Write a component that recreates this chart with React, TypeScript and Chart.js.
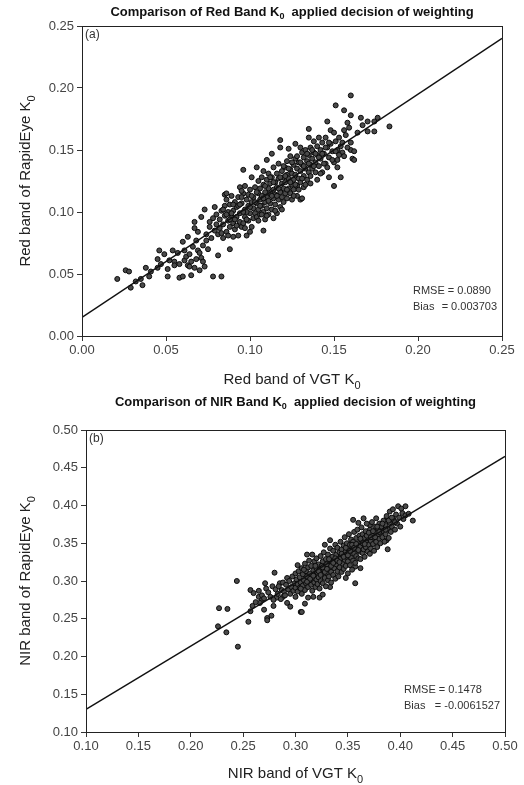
import React, { useEffect, useRef } from "react";
import { Chart, registerables } from "chart.js";

Chart.register(...registerables);

// ---------- DATA ----------
const redXTicks = [0, 0.05, 0.1, 0.15, 0.2, 0.25];
const redYTicks = [0, 0.05, 0.1, 0.15, 0.2, 0.25];
const nirXTicks = [0.1, 0.15, 0.2, 0.25, 0.3, 0.35, 0.4, 0.45, 0.5];
const nirYTicks = [0.1, 0.15, 0.2, 0.25, 0.3, 0.35, 0.4, 0.45, 0.5];

const redFitLine: [number, number][] = [[0, 0.015], [0.25, 0.24]];
const nirFitLine: [number, number][] = [[0.1, 0.13], [0.5, 0.465]];

const redStats = { rmse: "0.0890", bias: "0.003703" };
const nirStats = { rmse: "0.1478", bias: "-0.0061527" };

// Red band: [VGT K0, RapidEye K0]
const redPoints: [number, number][] = [
  [0.021,0.046],[0.026,0.053],[0.028,0.052],[0.029,0.039],[0.032,0.044],[0.036,0.041],[0.038,0.055],[0.041,0.052],
  [0.045,0.055],[0.045,0.062],[0.046,0.069],[0.049,0.066],[0.051,0.054],[0.051,0.048],[0.054,0.069],[0.055,0.060],
  [0.057,0.067],[0.055,0.057],[0.058,0.047],[0.060,0.076],[0.060,0.048],[0.061,0.069],[0.061,0.061],[0.063,0.080],
  [0.063,0.057],[0.064,0.056],[0.065,0.049],[0.067,0.055],[0.066,0.072],[0.068,0.077],[0.069,0.084],[0.070,0.053],
  [0.067,0.092],[0.067,0.087],[0.069,0.069],[0.070,0.067],[0.072,0.073],[0.073,0.056],[0.073,0.102],[0.071,0.096],
  [0.078,0.048],[0.081,0.065],[0.083,0.048],[0.088,0.070],[0.074,0.077],[0.062,0.064],[0.058,0.058],[0.071,0.063],
  [0.074,0.082],[0.076,0.088],[0.068,0.062],[0.064,0.066],[0.065,0.060],[0.072,0.060],[0.075,0.070],[0.077,0.079],
  [0.079,0.085],[0.047,0.058],[0.052,0.061],[0.040,0.048],[0.035,0.046],
  [0.076,0.092],[0.078,0.095],[0.080,0.090],[0.080,0.098],[0.082,0.087],[0.082,0.094],[0.083,0.101],[0.084,0.090],
  [0.085,0.097],[0.085,0.105],[0.086,0.084],[0.086,0.110],[0.087,0.093],[0.087,0.100],[0.088,0.088],[0.088,0.106],
  [0.089,0.096],[0.089,0.113],[0.090,0.080],[0.090,0.091],[0.090,0.101],[0.091,0.108],[0.091,0.086],[0.092,0.096],
  [0.092,0.104],[0.093,0.081],[0.093,0.112],[0.094,0.092],[0.094,0.099],[0.095,0.107],[0.095,0.088],[0.096,0.091],
  [0.096,0.115],[0.096,0.134],[0.097,0.102],[0.097,0.096],[0.098,0.081],[0.098,0.110],[0.099,0.093],[0.099,0.105],
  [0.100,0.084],[0.100,0.099],[0.100,0.118],[0.101,0.088],[0.101,0.128],[0.101,0.108],[0.079,0.104],[0.081,0.082],
  [0.084,0.079],[0.085,0.114],[0.086,0.115],[0.083,0.083],[0.087,0.081],[0.089,0.099],[0.091,0.094],[0.093,0.105],
  [0.094,0.120],[0.095,0.117],[0.097,0.121],[0.098,0.100],[0.099,0.114],
  [0.102,0.095],[0.102,0.103],[0.102,0.112],[0.103,0.120],[0.103,0.099],[0.104,0.096],[0.104,0.107],[0.104,0.136],
  [0.105,0.115],[0.105,0.102],[0.105,0.125],[0.106,0.110],[0.106,0.098],[0.106,0.119],[0.107,0.105],[0.107,0.128],
  [0.107,0.113],[0.108,0.085],[0.108,0.100],[0.108,0.122],[0.108,0.133],[0.109,0.094],[0.109,0.108],[0.109,0.116],
  [0.110,0.103],[0.110,0.126],[0.110,0.142],[0.110,0.112],[0.111,0.098],[0.111,0.119],[0.111,0.131],[0.112,0.107],
  [0.112,0.115],[0.112,0.123],[0.113,0.102],[0.113,0.147],[0.113,0.128],[0.114,0.095],[0.114,0.111],[0.114,0.118],
  [0.114,0.136],[0.115,0.106],[0.115,0.124],[0.115,0.114],[0.116,0.099],[0.116,0.131],[0.116,0.120],[0.117,0.110],
  [0.117,0.127],[0.117,0.139],[0.118,0.152],[0.118,0.158],[0.118,0.116],[0.118,0.104],[0.119,0.123],[0.119,0.133],
  [0.119,0.112],[0.120,0.119],[0.120,0.128],[0.120,0.108],
  [0.121,0.115],[0.121,0.136],[0.121,0.124],[0.122,0.111],[0.122,0.130],[0.122,0.141],[0.123,0.151],[0.123,0.119],
  [0.123,0.127],[0.124,0.115],[0.124,0.134],[0.124,0.145],[0.125,0.122],[0.125,0.131],[0.125,0.110],[0.126,0.138],
  [0.126,0.126],[0.126,0.118],[0.127,0.155],[0.127,0.143],[0.127,0.130],[0.128,0.121],[0.128,0.135],[0.128,0.113],
  [0.129,0.140],[0.129,0.127],[0.130,0.110],[0.130,0.152],[0.130,0.133],[0.130,0.124],[0.131,0.111],[0.131,0.148],
  [0.131,0.138],[0.132,0.129],[0.132,0.144],[0.132,0.120],[0.133,0.135],[0.133,0.150],[0.134,0.126],[0.134,0.141],
  [0.135,0.167],[0.135,0.160],[0.135,0.132],[0.135,0.146],[0.136,0.138],[0.136,0.129],[0.136,0.152],[0.137,0.143],
  [0.137,0.135],[0.138,0.148],[0.138,0.157],[0.139,0.140],[0.139,0.132],[0.140,0.126],[0.140,0.146],[0.140,0.153],
  [0.141,0.160],[0.141,0.137],[0.142,0.150],[0.142,0.143],[0.143,0.132],[0.143,0.156],[0.144,0.147],[0.145,0.160],
  [0.145,0.139],[0.146,0.136],[0.146,0.173],[0.146,0.152],[0.147,0.128],[0.147,0.144],[0.148,0.166],[0.148,0.155],
  [0.149,0.149],[0.150,0.121],[0.150,0.164],[0.150,0.140],[0.151,0.186],[0.151,0.157],[0.152,0.136],[0.152,0.142],
  [0.152,0.150],[0.153,0.160],[0.154,0.128],[0.154,0.153],[0.155,0.148],[0.155,0.156],[0.156,0.182],[0.156,0.145],
  [0.157,0.162],[0.158,0.172],[0.159,0.168],[0.160,0.156],[0.160,0.194],[0.160,0.178],[0.160,0.150],
  [0.161,0.143],[0.162,0.149],[0.162,0.142],[0.164,0.164],[0.166,0.176],[0.167,0.170],[0.170,0.173],[0.170,0.165],
  [0.174,0.173],[0.174,0.165],[0.176,0.176],[0.183,0.169],
  [0.092,0.089],[0.094,0.106],[0.096,0.100],[0.098,0.094],[0.100,0.104],[0.101,0.113],[0.103,0.108],[0.104,0.116],
  [0.105,0.093],[0.106,0.105],[0.107,0.098],[0.108,0.111],[0.109,0.121],[0.110,0.097],[0.111,0.109],[0.112,0.128],
  [0.113,0.113],[0.114,0.124],[0.115,0.101],[0.116,0.113],[0.117,0.119],[0.118,0.128],[0.119,0.102],[0.120,0.137],
  [0.121,0.129],[0.122,0.118],[0.123,0.135],[0.124,0.124],[0.125,0.140],[0.126,0.113],[0.127,0.122],[0.128,0.145],
  [0.129,0.118],[0.130,0.140],[0.131,0.127],[0.132,0.137],[0.133,0.122],[0.134,0.147],[0.135,0.139],[0.136,0.123],
  [0.137,0.150],[0.138,0.137],[0.139,0.147],[0.141,0.144],[0.142,0.131],[0.143,0.147],[0.144,0.139],[0.145,0.152],
  [0.147,0.156],[0.149,0.142],[0.151,0.149],[0.153,0.146],[0.156,0.166],[0.158,0.152],[0.088,0.094],[0.086,0.098],
  [0.084,0.102],[0.090,0.106],[0.095,0.112],[0.097,0.087]
];

// NIR band: [VGT K0, RapidEye K0]
const nirPoints: [number, number][] = [
  [0.226,0.240],[0.227,0.264],[0.235,0.263],[0.234,0.232],[0.244,0.300],[0.245,0.213],[0.255,0.246],[0.257,0.260],
  [0.257,0.288],[0.260,0.284],[0.265,0.279],[0.268,0.275],[0.266,0.271],[0.259,0.267],[0.271,0.297],[0.270,0.262],
  [0.273,0.251],[0.277,0.254],[0.273,0.248],[0.280,0.311],[0.279,0.267],[0.282,0.278],[0.285,0.297],[0.287,0.288],
  [0.288,0.279],[0.292,0.304],[0.292,0.271],[0.295,0.266],[0.305,0.259],[0.311,0.335],[0.316,0.335],[0.302,0.321],
  [0.306,0.259],[0.309,0.270],[0.312,0.278],[0.317,0.279],[0.323,0.278],[0.326,0.282],[0.333,0.292],[0.357,0.297],
  [0.348,0.304],[0.333,0.354],[0.328,0.348],[0.355,0.381],[0.360,0.377],[0.365,0.383],[0.371,0.374],[0.376,0.372],
  [0.383,0.370],[0.388,0.381],[0.393,0.383],[0.402,0.390],[0.405,0.387],[0.412,0.380],[0.388,0.342],[0.387,0.354],
  [0.357,0.319],[0.362,0.317],
  [0.262,0.272],[0.265,0.287],[0.268,0.281],[0.270,0.277],[0.272,0.290],[0.274,0.285],[0.276,0.279],[0.278,0.293],
  [0.279,0.275],
  [0.281,0.289],[0.283,0.283],[0.284,0.293],[0.286,0.276],[0.288,0.298],[0.289,0.286],[0.290,0.281],[0.291,0.295],
  [0.293,0.289],[0.294,0.300],[0.295,0.283],[0.296,0.292],[0.297,0.306],[0.298,0.287],[0.299,0.297],[0.300,0.279],
  [0.300,0.310],[0.300,0.291],
  [0.301,0.302],[0.302,0.286],[0.302,0.296],[0.303,0.313],[0.304,0.291],[0.304,0.305],[0.305,0.298],[0.306,0.283],
  [0.306,0.317],[0.307,0.309],[0.307,0.294],[0.308,0.301],[0.309,0.288],[0.309,0.323],[0.310,0.313],[0.310,0.297],
  [0.311,0.306],[0.312,0.292],[0.312,0.318],[0.313,0.300],[0.313,0.327],[0.314,0.310],[0.315,0.295],[0.315,0.320],
  [0.316,0.304],[0.316,0.287],[0.317,0.314],[0.318,0.298],[0.318,0.326],[0.319,0.308],[0.319,0.292],[0.320,0.317],
  [0.320,0.302],[0.320,0.330],
  [0.321,0.311],[0.321,0.296],[0.322,0.322],[0.322,0.305],[0.323,0.290],[0.323,0.315],[0.324,0.333],[0.324,0.300],
  [0.325,0.320],[0.325,0.309],[0.326,0.297],[0.326,0.326],[0.327,0.314],[0.327,0.338],[0.328,0.304],[0.328,0.319],
  [0.329,0.293],[0.329,0.329],[0.330,0.310],[0.330,0.322],[0.331,0.301],[0.331,0.335],[0.332,0.316],[0.332,0.306],
  [0.333,0.326],[0.333,0.343],[0.334,0.312],[0.334,0.298],[0.335,0.321],[0.335,0.332],[0.336,0.308],[0.336,0.340],
  [0.337,0.317],[0.337,0.327],[0.338,0.303],[0.338,0.348],[0.339,0.322],[0.339,0.335],[0.340,0.313],[0.340,0.344],
  [0.341,0.326],[0.341,0.306],[0.342,0.338],[0.342,0.318],[0.343,0.330],[0.343,0.352],[0.344,0.312],[0.344,0.342],
  [0.345,0.323],[0.345,0.334],[0.346,0.347],[0.346,0.316],[0.347,0.328],[0.347,0.358],[0.348,0.339],[0.348,0.320],
  [0.349,0.332],[0.349,0.350],[0.350,0.310],[0.350,0.343],[0.350,0.326],[0.351,0.337],[0.351,0.362],[0.352,0.321],
  [0.352,0.348],[0.353,0.331],[0.353,0.355],[0.354,0.341],[0.354,0.315],[0.355,0.327],[0.355,0.352],[0.356,0.336],
  [0.356,0.365],[0.357,0.345],[0.357,0.324],[0.358,0.357],[0.358,0.333],[0.359,0.342],[0.359,0.368],[0.360,0.350],
  [0.360,0.330],
  [0.361,0.339],[0.361,0.360],[0.362,0.346],[0.362,0.329],[0.363,0.354],[0.363,0.371],[0.364,0.337],[0.364,0.362],
  [0.365,0.349],[0.365,0.342],[0.366,0.357],[0.366,0.332],[0.367,0.366],[0.367,0.345],[0.368,0.352],[0.368,0.376],
  [0.369,0.339],[0.369,0.361],[0.370,0.348],[0.370,0.356],[0.371,0.368],[0.371,0.336],[0.372,0.353],[0.372,0.343],
  [0.373,0.362],[0.373,0.378],[0.374,0.349],[0.375,0.357],[0.375,0.340],[0.376,0.365],[0.377,0.352],[0.377,0.383],
  [0.378,0.360],[0.378,0.345],[0.379,0.369],[0.380,0.356],[0.380,0.376],
  [0.381,0.364],[0.381,0.350],[0.382,0.372],[0.383,0.358],[0.384,0.380],[0.384,0.366],[0.385,0.352],[0.386,0.374],
  [0.386,0.362],[0.387,0.386],[0.388,0.369],[0.389,0.357],[0.390,0.377],[0.390,0.392],[0.391,0.365],[0.392,0.372],
  [0.393,0.395],[0.394,0.380],[0.395,0.368],[0.396,0.388],[0.397,0.376],[0.398,0.399],[0.399,0.384],[0.400,0.372],
  [0.401,0.396],[0.403,0.382],[0.405,0.399],[0.408,0.389],
  [0.305,0.290],[0.308,0.315],[0.311,0.299],[0.314,0.303],[0.317,0.307],[0.319,0.320],[0.322,0.313],[0.324,0.308],
  [0.326,0.318],[0.328,0.312],[0.330,0.316],[0.332,0.329],[0.334,0.320],[0.336,0.324],[0.338,0.330],[0.340,0.327],
  [0.342,0.325],[0.344,0.336],[0.346,0.332],[0.348,0.344],[0.350,0.334],[0.352,0.340],[0.354,0.348],[0.356,0.344],
  [0.358,0.349],[0.360,0.341],[0.362,0.356],[0.364,0.350],[0.366,0.349],[0.368,0.360],[0.370,0.364],[0.372,0.358],
  [0.374,0.366],[0.376,0.358],[0.378,0.372],[0.380,0.365],[0.383,0.376],[0.386,0.368],[0.389,0.380],[0.392,0.384],
  [0.395,0.378]
];

// ---------- DRAWING ----------
const FONT = '"Liberation Sans", Arial, Helvetica, sans-serif';

type Seg = { t: string; sub?: boolean };

function drawSegs(ctx: CanvasRenderingContext2D, segs: Seg[], x: number, y: number, size: number, weight: string, align: "center" | "left") {
  const subSize = Math.round(size * 0.72);
  const fontMain = `${weight} ${size}px ${FONT}`;
  const fontSub = `${weight} ${subSize}px ${FONT}`;
  let total = 0;
  const widths = segs.map((s) => {
    ctx.font = s.sub ? fontSub : fontMain;
    const w = ctx.measureText(s.t).width;
    total += w;
    return w;
  });
  let cx = align === "center" ? x - total / 2 : x;
  ctx.textAlign = "left";
  ctx.textBaseline = "middle";
  segs.forEach((s, i) => {
    ctx.font = s.sub ? fontSub : fontMain;
    ctx.fillText(s.t, cx, s.sub ? y + size * 0.38 : y);
    cx += widths[i];
  });
}

type PanelCfg = {
  height: number;
  padTop: number;
  padRight: number;
  yAxisW: number;
  xAxisH: number;
  xMin: number; xMax: number; yMin: number; yMax: number;
  xTicks: number[]; yTicks: number[];
  points: [number, number][];
  fit: [number, number][];
  title: Seg[];
  titleY: number;
  xTitle: Seg[];
  xTitleY: number;
  yTitle: Seg[];
  yTitleX: number;
  tag: string;
  tagPos: [number, number];
  stats: { rmse: string; bias: string };
  statsPos: [number, number];
};

function overlayPlugin(cfg: PanelCfg) {
  return {
    id: "overlay",
    afterDraw(chart: any) {
      const ctx: CanvasRenderingContext2D = chart.ctx;
      const a = chart.chartArea;
      ctx.save();
      ctx.strokeStyle = "#222";
      ctx.lineWidth = 1;
      ctx.strokeRect(Math.round(a.left) + 0.5, Math.round(a.top) + 0.5, Math.round(a.right - a.left), Math.round(a.bottom - a.top));
      ctx.fillStyle = "#111";
      drawSegs(ctx, cfg.title, (a.left + a.right) / 2, cfg.titleY, 13, "bold", "center");
      ctx.fillStyle = "#222";
      drawSegs(ctx, cfg.xTitle, (a.left + a.right) / 2, cfg.xTitleY, 15, "normal", "center");
      ctx.save();
      ctx.translate(cfg.yTitleX, (a.top + a.bottom) / 2);
      ctx.rotate(-Math.PI / 2);
      drawSegs(ctx, cfg.yTitle, 0, 0, 15, "normal", "center");
      ctx.restore();
      ctx.fillStyle = "#333";
      ctx.font = `12px ${FONT}`;
      ctx.textAlign = "left";
      ctx.textBaseline = "middle";
      ctx.fillText(cfg.tag, cfg.tagPos[0], cfg.tagPos[1]);
      ctx.font = `11px ${FONT}`;
      const [sx, sy] = cfg.statsPos;
      ctx.fillText("RMSE = " + cfg.stats.rmse, sx, sy);
      ctx.fillText("Bias", sx, sy + 16);
      ctx.textAlign = "right";
      ctx.fillText("= " + cfg.stats.bias, a.right - 5, sy + 16);
      ctx.restore();
    },
  };
}

function makeChart(canvas: HTMLCanvasElement, cfg: PanelCfg) {
  const tickFont = { family: FONT, size: 13 };
  return new Chart(canvas, {
    type: "scatter",
    data: {
      datasets: [
        {
          type: "line",
          data: cfg.fit.map(([x, y]) => ({ x, y })),
          borderColor: "#111",
          borderWidth: 1.3,
          pointRadius: 0,
          fill: false,
          tension: 0,
        } as any,
        {
          data: cfg.points.map(([x, y]) => ({ x, y })),
          pointRadius: 2.5,
          pointBackgroundColor: "#4a4a4a",
          pointBorderColor: "#0a0a0a",
          pointBorderWidth: 1,
          showLine: false,
        },
      ],
    },
    options: {
      responsive: false,
      animation: false,
      devicePixelRatio: 1,
      layout: { padding: { left: 0, right: cfg.padRight, top: cfg.padTop, bottom: 0 } },
      plugins: { legend: { display: false }, title: { display: false }, tooltip: { enabled: false } },
      scales: {
        x: {
          type: "linear",
          min: cfg.xMin,
          max: cfg.xMax,
          afterBuildTicks: (s: any) => { s.ticks = cfg.xTicks.map((v) => ({ value: v })); },
          afterFit: (s: any) => { s.height = cfg.xAxisH; },
          ticks: { callback: (v: any) => Number(v).toFixed(2), color: "#444", font: tickFont, padding: 2, maxRotation: 0, autoSkip: false },
          grid: { drawOnChartArea: false, drawTicks: true, tickLength: 5, color: "#333" },
          border: { display: true, color: "#222", width: 1 },
        },
        y: {
          type: "linear",
          min: cfg.yMin,
          max: cfg.yMax,
          afterBuildTicks: (s: any) => { s.ticks = cfg.yTicks.map((v) => ({ value: v })); },
          afterFit: (s: any) => { s.width = cfg.yAxisW; },
          ticks: { callback: (v: any) => Number(v).toFixed(2), color: "#444", font: tickFont, padding: 3, autoSkip: false },
          grid: { drawOnChartArea: false, drawTicks: true, tickLength: 5, color: "#333" },
          border: { display: true, color: "#222", width: 1 },
        },
      },
    } as any,
    plugins: [overlayPlugin(cfg)],
  });
}

const topCfg: PanelCfg = {
  height: 392,
  padTop: 26,
  padRight: 22,
  yAxisW: 82,
  xAxisH: 56,
  xMin: 0, xMax: 0.25, yMin: 0, yMax: 0.25,
  xTicks: redXTicks, yTicks: redYTicks,
  points: redPoints,
  fit: redFitLine,
  title: [{ t: "Comparison of Red Band K" }, { t: "0", sub: true }, { t: "  applied decision of weighting" }],
  titleY: 12,
  xTitle: [{ t: "Red band of VGT K" }, { t: "0", sub: true }],
  xTitleY: 380,
  yTitle: [{ t: "Red band of RapidEye K" }, { t: "0", sub: true }],
  yTitleX: 26,
  tag: "(a)",
  tagPos: [85, 35],
  stats: redStats,
  statsPos: [413, 291],
};

const bottomCfg: PanelCfg = {
  height: 393,
  padTop: 38,
  padRight: 19,
  yAxisW: 86,
  xAxisH: 53,
  xMin: 0.1, xMax: 0.5, yMin: 0.1, yMax: 0.5,
  xTicks: nirXTicks, yTicks: nirYTicks,
  points: nirPoints,
  fit: nirFitLine,
  title: [{ t: "Comparison of NIR Band K" }, { t: "0", sub: true }, { t: "  applied decision of weighting" }],
  titleY: 10,
  xTitle: [{ t: "NIR band of VGT K" }, { t: "0", sub: true }],
  xTitleY: 382,
  yTitle: [{ t: "NIR band of RapidEye K" }, { t: "0", sub: true }],
  yTitleX: 26,
  tag: "(b)",
  tagPos: [89, 47],
  stats: nirStats,
  statsPos: [404, 298],
};

function Panel({ cfg, top }: { cfg: PanelCfg; top: number }) {
  const ref = useRef<HTMLCanvasElement | null>(null);
  useEffect(() => {
    if (!ref.current) return;
    const chart = makeChart(ref.current, cfg);
    return () => chart.destroy();
  }, [cfg]);
  return (
    <canvas
      ref={ref}
      width={524}
      height={cfg.height}
      style={{ position: "absolute", left: 0, top, width: 524, height: cfg.height, display: "block" }}
    />
  );
}

export default function App() {
  return (
    <div style={{ position: "absolute", left: 0, top: 0, width: 524, height: 785, background: "#fff" }}>
      <Panel cfg={topCfg} top={0} />
      <Panel cfg={bottomCfg} top={392} />
    </div>
  );
}
